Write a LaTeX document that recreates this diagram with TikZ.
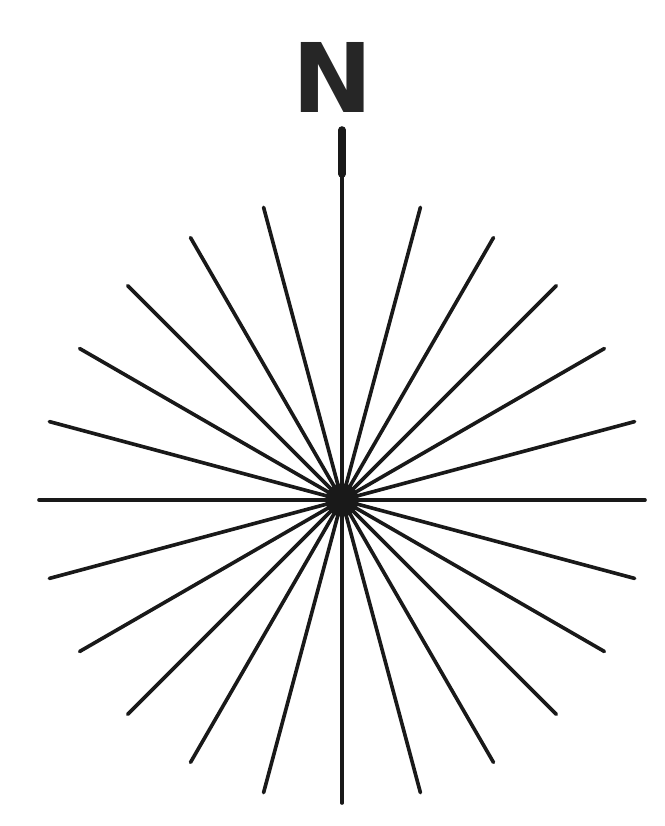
\documentclass[tikz,border=0pt]{standalone}
\usepackage{fontspec}
\usetikzlibrary{calc}
\newfontfamily\nfont{DejaVu Sans}
\begin{document}
\begin{tikzpicture}[x=0.03cm,y=-0.03cm,
  ray/.style={line width=3.1pt, draw=black!90, line cap=round},
  label/.style={font=\nfont\bfseries\fontsize{82}{82}\selectfont, inner sep=0pt, text=black!85}]
\useasboundingbox (0,0) rectangle (665,826);
\coordinate (c) at (342,500);
\foreach \a in {0,15,...,345}{
  \ifnum\a=270\relax\else
  \coordinate (e\a) at ($(c)+(\a:303)$);
  \draw[ray] (c) -- (e\a);
  \fi
}
\coordinate (top) at (342,130);
\coordinate (topk) at (342,174);
\draw[ray] (c) -- (top);
\draw[line width=6.5pt, line cap=round, black!90] (top) -- (topk);
\fill[black!90] (c) circle[radius=0.5cm];
\node[label] (N) at (333,77) {N};
\end{tikzpicture}
\end{document}
